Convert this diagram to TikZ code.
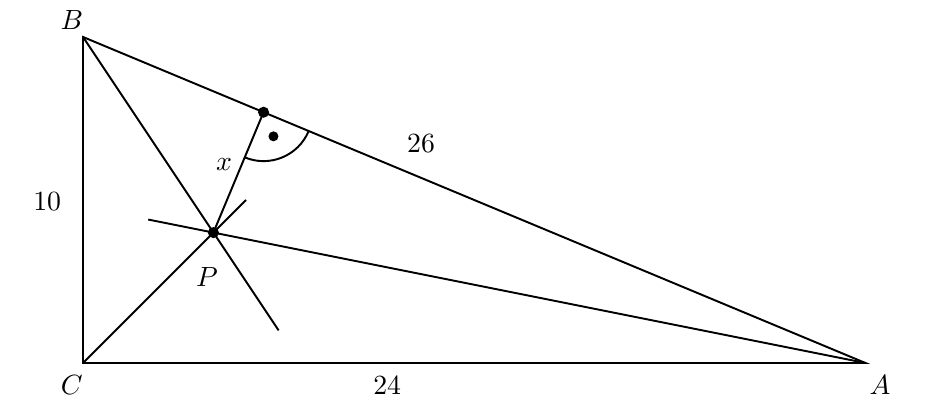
\documentclass[tikz,border=0pt]{standalone}
\begin{document}
\begin{tikzpicture}[x=11.74pt,y=11.74pt,line width=0.7pt,
  dot/.style={circle,fill,inner sep=0pt,minimum size=4pt}]
  \useasboundingbox (-2.546,-1.319) rectangle (26.595,11.135);
  \coordinate (C) at (0,0);
  \coordinate (B) at (0,10);
  \coordinate (A) at (24,0);
  \coordinate (P) at (4,4);
  \coordinate (F) at (5.538,7.692);
  % ends of the bisectors
  \coordinate (Bend) at (6,1);
  \coordinate (Cend) at (5,5);
  \coordinate (Aend) at (2,4.4);
  \draw (C) -- (A) -- (B) -- cycle;
  \draw (B) -- (Bend);
  \draw (C) -- (Cend);
  \draw (A) -- (Aend);
  \draw (P) -- (F);
  \draw ([shift={(-22.62:1.5)}]F) arc[start angle=-22.62,end angle=-112.62,radius=1.5];
  \node[dot] (Pdot) at (P) {};
  \node[dot] (Fdot) at (F) {};
  \node[dot,minimum size=3.6pt] (Rdot) at ([shift={(-67.62:0.8)}]F) {};
  \node (labB) at (-0.34,10.52) {$B$};
  \node (labC) at (-0.34,-0.67) {$C$};
  \node (labA) at (24.45,-0.67) {$A$};
  \node (labP) at (3.8,2.64) {$P$};
  \node (labx) at (4.33,6.1) {$x$};
  \node (lab10) at (-1.1,4.94) {10};
  \node (lab24) at (9.33,-0.67) {24};
  \node (lab26) at (10.37,6.72) {26};
\end{tikzpicture}
\end{document}
